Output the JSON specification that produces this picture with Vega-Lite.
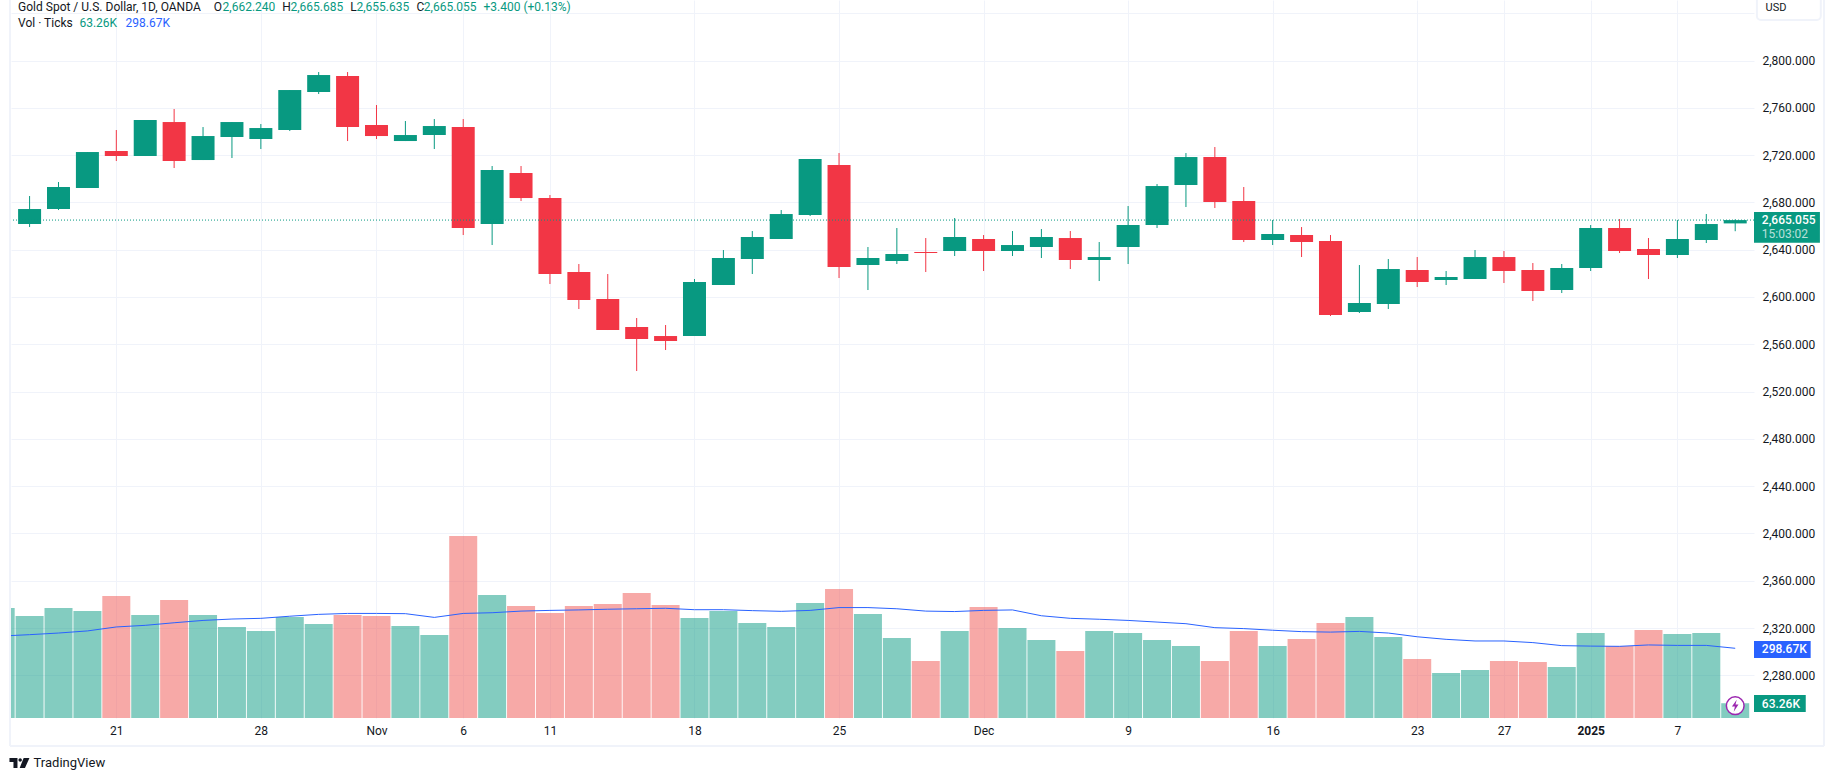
{
  "$schema": "https://vega.github.io/schema/vega-lite/v6.json",
  "width": 1743,
  "height": 718,
  "autosize": "none",
  "padding": {"left": 11, "top": 0, "right": 81, "bottom": 63},
  "background": "#ffffff",
  "config": {
    "view": {"stroke": null},
    "font": "Roboto",
    "scale": {"continuousPadding": 0},
    "axis": {"labelFont": "Roboto", "labelFontSize": 12, "labelColor": "#131722", "gridColor": "#F0F3FA", "gridWidth": 1, "ticks": false, "domain": false, "title": null}
  },
  "data": {"values": [{"note": "annotation"}]},
  "datasets": {
    "candles": [
      {"i":-1,"date":"2024-10-15","dir":"up","open":null,"high":null,"low":null,"close":null,"vol":471,"ma":351},
      {"i":0,"date":"2024-10-16","dir":"up","open":2661.71,"high":2685.40,"low":2659.17,"close":2674.40,"vol":437,"ma":357},
      {"i":1,"date":"2024-10-17","dir":"up","open":2674.40,"high":2697.24,"low":2673.55,"close":2693.01,"vol":471,"ma":364},
      {"i":2,"date":"2024-10-18","dir":"up","open":2692.16,"high":2722.61,"low":2692.16,"close":2722.61,"vol":458,"ma":373},
      {"i":3,"date":"2024-10-21","dir":"down","open":2723.46,"high":2741.22,"low":2715.00,"close":2719.23,"vol":523,"ma":390},
      {"i":4,"date":"2024-10-22","dir":"up","open":2719.23,"high":2749.68,"low":2719.23,"close":2749.68,"vol":441,"ma":397},
      {"i":5,"date":"2024-10-23","dir":"down","open":2747.98,"high":2758.98,"low":2709.08,"close":2715.00,"vol":506,"ma":408},
      {"i":6,"date":"2024-10-24","dir":"up","open":2715.84,"high":2743.75,"low":2715.84,"close":2736.14,"vol":441,"ma":418},
      {"i":7,"date":"2024-10-25","dir":"up","open":2735.30,"high":2747.98,"low":2717.54,"close":2747.98,"vol":390,"ma":424},
      {"i":8,"date":"2024-10-28","dir":"up","open":2733.61,"high":2746.29,"low":2725.15,"close":2742.91,"vol":373,"ma":427},
      {"i":9,"date":"2024-10-29","dir":"up","open":2741.22,"high":2775.05,"low":2740.37,"close":2775.05,"vol":433,"ma":436},
      {"i":10,"date":"2024-10-30","dir":"up","open":2773.36,"high":2790.27,"low":2771.67,"close":2787.74,"vol":403,"ma":444},
      {"i":11,"date":"2024-10-31","dir":"down","open":2786.89,"high":2790.27,"low":2731.91,"close":2743.75,"vol":441,"ma":448},
      {"i":12,"date":"2024-11-01","dir":"down","open":2745.45,"high":2762.36,"low":2733.61,"close":2736.14,"vol":437,"ma":448},
      {"i":13,"date":"2024-11-04","dir":"up","open":2731.91,"high":2748.83,"low":2731.91,"close":2736.99,"vol":394,"ma":447},
      {"i":14,"date":"2024-11-05","dir":"up","open":2736.99,"high":2750.52,"low":2725.15,"close":2744.60,"vol":356,"ma":431},
      {"i":15,"date":"2024-11-06","dir":"down","open":2743.75,"high":2750.52,"low":2652.41,"close":2658.33,"vol":780,"ma":448},
      {"i":16,"date":"2024-11-07","dir":"up","open":2661.71,"high":2710.77,"low":2643.95,"close":2707.39,"vol":527,"ma":451},
      {"i":17,"date":"2024-11-08","dir":"down","open":2704.85,"high":2710.77,"low":2681.17,"close":2683.70,"vol":480,"ma":458},
      {"i":18,"date":"2024-11-11","dir":"down","open":2683.70,"high":2686.24,"low":2610.97,"close":2619.42,"vol":450,"ma":461},
      {"i":19,"date":"2024-11-12","dir":"down","open":2621.12,"high":2627.88,"low":2589.82,"close":2597.43,"vol":480,"ma":463},
      {"i":20,"date":"2024-11-13","dir":"down","open":2598.28,"high":2619.42,"low":2572.06,"close":2572.06,"vol":488,"ma":466},
      {"i":21,"date":"2024-11-14","dir":"down","open":2574.60,"high":2582.21,"low":2537.38,"close":2564.45,"vol":536,"ma":468},
      {"i":22,"date":"2024-11-15","dir":"down","open":2566.98,"high":2576.29,"low":2555.14,"close":2562.76,"vol":484,"ma":470},
      {"i":23,"date":"2024-11-18","dir":"up","open":2566.98,"high":2615.19,"low":2566.98,"close":2612.66,"vol":428,"ma":464},
      {"i":24,"date":"2024-11-19","dir":"up","open":2610.12,"high":2639.72,"low":2610.12,"close":2632.96,"vol":458,"ma":464},
      {"i":25,"date":"2024-11-20","dir":"up","open":2632.11,"high":2655.79,"low":2619.42,"close":2650.72,"vol":407,"ma":460},
      {"i":26,"date":"2024-11-21","dir":"up","open":2649.03,"high":2673.55,"low":2649.03,"close":2670.17,"vol":390,"ma":457},
      {"i":27,"date":"2024-11-22","dir":"up","open":2669.33,"high":2716.69,"low":2668.48,"close":2716.69,"vol":493,"ma":461},
      {"i":28,"date":"2024-11-25","dir":"down","open":2711.61,"high":2721.76,"low":2616.04,"close":2625.34,"vol":553,"ma":473},
      {"i":29,"date":"2024-11-26","dir":"up","open":2627.04,"high":2642.26,"low":2605.89,"close":2632.96,"vol":446,"ma":473},
      {"i":30,"date":"2024-11-27","dir":"up","open":2630.42,"high":2658.33,"low":2627.88,"close":2636.34,"vol":343,"ma":468},
      {"i":31,"date":"2024-11-28","dir":"down","open":2638.03,"high":2649.87,"low":2621.12,"close":2637.19,"vol":244,"ma":458},
      {"i":32,"date":"2024-11-29","dir":"up","open":2638.88,"high":2666.79,"low":2634.65,"close":2650.72,"vol":373,"ma":456},
      {"i":33,"date":"2024-12-02","dir":"down","open":2649.03,"high":2652.41,"low":2621.96,"close":2638.88,"vol":476,"ma":461},
      {"i":34,"date":"2024-12-03","dir":"up","open":2638.88,"high":2655.79,"low":2634.65,"close":2643.95,"vol":386,"ma":463},
      {"i":35,"date":"2024-12-04","dir":"up","open":2642.26,"high":2657.48,"low":2632.96,"close":2650.72,"vol":334,"ma":438},
      {"i":36,"date":"2024-12-05","dir":"down","open":2649.87,"high":2655.79,"low":2623.65,"close":2631.26,"vol":287,"ma":427},
      {"i":37,"date":"2024-12-06","dir":"up","open":2631.26,"high":2646.49,"low":2613.50,"close":2633.80,"vol":373,"ma":423},
      {"i":38,"date":"2024-12-09","dir":"up","open":2642.26,"high":2676.94,"low":2627.88,"close":2660.87,"vol":364,"ma":418},
      {"i":39,"date":"2024-12-10","dir":"up","open":2660.87,"high":2695.54,"low":2658.33,"close":2693.85,"vol":334,"ma":411},
      {"i":40,"date":"2024-12-11","dir":"up","open":2694.70,"high":2721.76,"low":2676.09,"close":2718.38,"vol":308,"ma":404},
      {"i":41,"date":"2024-12-12","dir":"down","open":2718.38,"high":2726.84,"low":2675.25,"close":2680.32,"vol":244,"ma":387},
      {"i":42,"date":"2024-12-13","dir":"down","open":2681.17,"high":2693.01,"low":2646.49,"close":2648.18,"vol":373,"ma":383},
      {"i":43,"date":"2024-12-16","dir":"up","open":2648.18,"high":2665.10,"low":2643.95,"close":2653.26,"vol":308,"ma":376},
      {"i":44,"date":"2024-12-17","dir":"down","open":2652.41,"high":2659.17,"low":2633.80,"close":2646.49,"vol":338,"ma":370},
      {"i":45,"date":"2024-12-18","dir":"down","open":2647.33,"high":2652.41,"low":2583.90,"close":2584.75,"vol":407,"ma":368},
      {"i":46,"date":"2024-12-19","dir":"up","open":2587.28,"high":2627.04,"low":2586.44,"close":2594.90,"vol":433,"ma":371},
      {"i":47,"date":"2024-12-20","dir":"up","open":2594.05,"high":2632.11,"low":2589.82,"close":2623.65,"vol":347,"ma":364},
      {"i":48,"date":"2024-12-23","dir":"down","open":2622.81,"high":2633.80,"low":2608.43,"close":2612.66,"vol":253,"ma":348},
      {"i":49,"date":"2024-12-24","dir":"up","open":2614.35,"high":2621.96,"low":2610.12,"close":2616.89,"vol":193,"ma":337},
      {"i":50,"date":"2024-12-26","dir":"up","open":2615.19,"high":2639.72,"low":2615.19,"close":2633.80,"vol":206,"ma":330},
      {"i":51,"date":"2024-12-27","dir":"down","open":2633.80,"high":2638.88,"low":2611.81,"close":2621.96,"vol":244,"ma":330},
      {"i":52,"date":"2024-12-30","dir":"down","open":2622.81,"high":2628.73,"low":2596.59,"close":2605.05,"vol":240,"ma":323},
      {"i":53,"date":"2024-12-31","dir":"up","open":2605.89,"high":2627.88,"low":2603.35,"close":2624.50,"vol":218,"ma":310},
      {"i":54,"date":"2025-01-02","dir":"up","open":2624.50,"high":2660.87,"low":2621.96,"close":2658.33,"vol":364,"ma":308},
      {"i":55,"date":"2025-01-03","dir":"down","open":2658.33,"high":2665.94,"low":2637.19,"close":2638.88,"vol":308,"ma":307},
      {"i":56,"date":"2025-01-06","dir":"down","open":2640.57,"high":2649.87,"low":2615.19,"close":2635.49,"vol":377,"ma":313},
      {"i":57,"date":"2025-01-07","dir":"up","open":2635.49,"high":2665.10,"low":2632.96,"close":2649.03,"vol":360,"ma":311},
      {"i":58,"date":"2025-01-08","dir":"up","open":2648.18,"high":2670.17,"low":2645.64,"close":2661.71,"vol":364,"ma":311},
      {"i":59,"date":"2025-01-09","dir":"up","open":2662.24,"high":2665.685,"low":2655.635,"close":2665.055,"vol":63.26,"ma":298.67}
    ]
  },
  "resolve": {"scale": {"y": "independent", "color": "independent"}, "axis": {"y": "independent"}},
  "layer": [
    {
      "layer": [
        {
          "data": {"name": "candles"},
          "mark": {"type": "rule", "strokeWidth": 1},
          "encoding": {
            "x": {
              "field": "i",
              "type": "quantitative",
              "title": null,
              "scale": {"domain": [-0.643, 59.65], "nice": false, "zero": false},
              "axis": {
                "values": [3, 8, 12, 15, 18, 23, 28, 33, 38, 43, 48, 51, 54, 57],
                "grid": true,
                "labelPadding": 7,
                "labelFlush": false,
                "labelOverlap": false,
                "labelExpr": "{'3':'21','8':'28','12':'Nov','15':'6','18':'11','23':'18','28':'25','33':'Dec','38':'9','43':'16','48':'23','51':'27','54':'2025','57':'7'}[datum.value]",
                "labelFontWeight": {"condition": {"test": "datum.value == 54", "value": "bold"}, "value": "normal"}
              }
            },
            "y": {
              "field": "low",
              "type": "quantitative",
              "title": null,
              "scale": {"domain": [2243.9, 2851.2], "nice": false, "zero": false},
              "axis": {
                "orient": "right",
                "values": [2280, 2320, 2360, 2400, 2440, 2480, 2520, 2560, 2600, 2640, 2680, 2720, 2760, 2800, 2840],
                "grid": true,
                "labelPadding": 8,
                "labelExpr": "datum.value == 2840 ? '' : format(datum.value, ',.3f')"
              }
            },
            "y2": {"field": "high"},
            "color": {"field": "dir", "type": "nominal", "legend": null, "scale": {"domain": ["up", "down"], "range": ["#089981", "#F23645"]}}
          }
        },
        {
          "data": {"name": "candles"},
          "mark": {"type": "bar", "size": 23},
          "encoding": {
            "x": {"field": "i", "type": "quantitative", "scale": {"domain": [-0.643, 59.65], "nice": false, "zero": false}},
            "y": {"field": "open", "type": "quantitative", "stack": null, "scale": {"domain": [2243.9, 2851.2], "nice": false, "zero": false}},
            "y2": {"field": "close"},
            "color": {"field": "dir", "type": "nominal", "legend": null}
          }
        },
        {
          "mark": {"type": "rule", "color": "#089981", "strokeWidth": 1, "strokeDash": [1, 2]},
          "encoding": {"y": {"datum": 2665.055, "type": "quantitative", "scale": {"domain": [2243.9, 2851.2], "nice": false, "zero": false}}}
        },
        {
          "mark": {"type": "rule", "color": "#F0F3FA", "strokeWidth": 2},
          "encoding": {"x": {"datum": -0.678, "type": "quantitative", "scale": {"domain": [-0.643, 59.65], "nice": false, "zero": false}}, "y": {"datum": 2851.2, "type": "quantitative", "scale": {"domain": [2243.9, 2851.2], "nice": false, "zero": false}}, "y2": {"datum": 2220.2}}
        },
        {
          "mark": {"type": "rule", "color": "#F0F3FA", "strokeWidth": 2},
          "encoding": {"x": {"datum": 62.07, "type": "quantitative", "scale": {"domain": [-0.643, 59.65], "nice": false, "zero": false}}, "y": {"datum": 2851.2, "type": "quantitative", "scale": {"domain": [2243.9, 2851.2], "nice": false, "zero": false}}, "y2": {"datum": 2220.2}}
        },
        {
          "mark": {"type": "rule", "color": "#F0F3FA", "strokeWidth": 2},
          "encoding": {"x": {"datum": -0.678, "type": "quantitative", "scale": {"domain": [-0.643, 59.65], "nice": false, "zero": false}}, "x2": {"datum": 62.07}, "y": {"datum": 2220.2, "type": "quantitative", "scale": {"domain": [2243.9, 2851.2], "nice": false, "zero": false}}}
        },
        {
          "mark": {"type": "rect", "fill": "#ffffff", "stroke": "#F0F3FA", "strokeWidth": 2, "cornerRadius": 4},
          "encoding": {"x": {"datum": 59.75, "type": "quantitative", "scale": {"domain": [-0.643, 59.65], "nice": false, "zero": false}}, "x2": {"datum": 61.96}, "y": {"datum": 2855.4, "type": "quantitative", "scale": {"domain": [2243.9, 2851.2], "nice": false, "zero": false}}, "y2": {"datum": 2834.3}}
        },
        {
          "mark": {"type": "text", "align": "left", "baseline": "middle", "fontSize": 11, "color": "#131722"},
          "encoding": {"x": {"datum": 60.05, "type": "quantitative", "scale": {"domain": [-0.643, 59.65], "nice": false, "zero": false}}, "y": {"datum": 2844.2, "type": "quantitative", "scale": {"domain": [2243.9, 2851.2], "nice": false, "zero": false}}, "text": {"value": "USD"}}
        },
        {
          "mark": {"type": "rect", "fill": "#089981"},
          "encoding": {"x": {"datum": 59.65, "type": "quantitative", "scale": {"domain": [-0.643, 59.65], "nice": false, "zero": false}}, "x2": {"datum": 61.93}, "y": {"datum": 2671.9, "type": "quantitative", "scale": {"domain": [2243.9, 2851.2], "nice": false, "zero": false}}, "y2": {"datum": 2645.9}}
        },
        {
          "mark": {"type": "text", "align": "left", "baseline": "middle", "fontSize": 12, "fontWeight": 500, "color": "#ffffff"},
          "encoding": {"x": {"datum": 59.92, "type": "quantitative", "scale": {"domain": [-0.643, 59.65], "nice": false, "zero": false}}, "y": {"datum": 2665.4, "type": "quantitative", "scale": {"domain": [2243.9, 2851.2], "nice": false, "zero": false}}, "text": {"value": "2,665.055"}}
        },
        {
          "mark": {"type": "text", "align": "left", "baseline": "middle", "fontSize": 12, "color": "#ffffff", "opacity": 0.7},
          "encoding": {"x": {"datum": 59.92, "type": "quantitative", "scale": {"domain": [-0.643, 59.65], "nice": false, "zero": false}}, "y": {"datum": 2653.5, "type": "quantitative", "scale": {"domain": [2243.9, 2851.2], "nice": false, "zero": false}}, "text": {"value": "15:03:02"}}
        },
        {
          "mark": {"type": "rect", "fill": "#2962FF"},
          "encoding": {"x": {"datum": 59.65, "type": "quantitative", "scale": {"domain": [-0.643, 59.65], "nice": false, "zero": false}}, "x2": {"datum": 61.61}, "y": {"datum": 2309.0, "type": "quantitative", "scale": {"domain": [2243.9, 2851.2], "nice": false, "zero": false}}, "y2": {"datum": 2294.7}}
        },
        {
          "mark": {"type": "text", "align": "left", "baseline": "middle", "fontSize": 12, "fontWeight": 500, "color": "#ffffff"},
          "encoding": {"x": {"datum": 59.92, "type": "quantitative", "scale": {"domain": [-0.643, 59.65], "nice": false, "zero": false}}, "y": {"datum": 2302.0, "type": "quantitative", "scale": {"domain": [2243.9, 2851.2], "nice": false, "zero": false}}, "text": {"value": "298.67K"}}
        },
        {
          "mark": {"type": "rect", "fill": "#089981"},
          "encoding": {"x": {"datum": 59.65, "type": "quantitative", "scale": {"domain": [-0.643, 59.65], "nice": false, "zero": false}}, "x2": {"datum": 61.44}, "y": {"datum": 2263.4, "type": "quantitative", "scale": {"domain": [2243.9, 2851.2], "nice": false, "zero": false}}, "y2": {"datum": 2249.0}}
        },
        {
          "mark": {"type": "text", "align": "left", "baseline": "middle", "fontSize": 12, "fontWeight": 500, "color": "#ffffff"},
          "encoding": {"x": {"datum": 59.92, "type": "quantitative", "scale": {"domain": [-0.643, 59.65], "nice": false, "zero": false}}, "y": {"datum": 2256.0, "type": "quantitative", "scale": {"domain": [2243.9, 2851.2], "nice": false, "zero": false}}, "text": {"value": "63.26K"}}
        },
        {
          "mark": {"type": "text", "align": "left", "baseline": "middle", "fontSize": 12, "color": "#131722"},
          "encoding": {"x": {"datum": -0.398, "type": "quantitative", "scale": {"domain": [-0.643, 59.65], "nice": false, "zero": false}}, "y": {"datum": 2845.4, "type": "quantitative", "scale": {"domain": [2243.9, 2851.2], "nice": false, "zero": false}}, "text": {"value": "Gold Spot / U.S. Dollar, 1D, OANDA"}}
        },
        {
          "mark": {"type": "text", "align": "left", "baseline": "middle", "fontSize": 12, "color": "#131722"},
          "encoding": {"x": {"datum": 6.372, "type": "quantitative", "scale": {"domain": [-0.643, 59.65], "nice": false, "zero": false}}, "y": {"datum": 2845.4, "type": "quantitative", "scale": {"domain": [2243.9, 2851.2], "nice": false, "zero": false}}, "text": {"value": "O"}}
        },
        {
          "mark": {"type": "text", "align": "left", "baseline": "middle", "fontSize": 12, "color": "#089981"},
          "encoding": {"x": {"datum": 6.676, "type": "quantitative", "scale": {"domain": [-0.643, 59.65], "nice": false, "zero": false}}, "y": {"datum": 2845.4, "type": "quantitative", "scale": {"domain": [2243.9, 2851.2], "nice": false, "zero": false}}, "text": {"value": "2,662.240"}}
        },
        {
          "mark": {"type": "text", "align": "left", "baseline": "middle", "fontSize": 12, "color": "#131722"},
          "encoding": {"x": {"datum": 8.737, "type": "quantitative", "scale": {"domain": [-0.643, 59.65], "nice": false, "zero": false}}, "y": {"datum": 2845.4, "type": "quantitative", "scale": {"domain": [2243.9, 2851.2], "nice": false, "zero": false}}, "text": {"value": "H"}}
        },
        {
          "mark": {"type": "text", "align": "left", "baseline": "middle", "fontSize": 12, "color": "#089981"},
          "encoding": {"x": {"datum": 9.024, "type": "quantitative", "scale": {"domain": [-0.643, 59.65], "nice": false, "zero": false}}, "y": {"datum": 2845.4, "type": "quantitative", "scale": {"domain": [2243.9, 2851.2], "nice": false, "zero": false}}, "text": {"value": "2,665.685"}}
        },
        {
          "mark": {"type": "text", "align": "left", "baseline": "middle", "fontSize": 12, "color": "#131722"},
          "encoding": {"x": {"datum": 11.09, "type": "quantitative", "scale": {"domain": [-0.643, 59.65], "nice": false, "zero": false}}, "y": {"datum": 2845.4, "type": "quantitative", "scale": {"domain": [2243.9, 2851.2], "nice": false, "zero": false}}, "text": {"value": "L"}}
        },
        {
          "mark": {"type": "text", "align": "left", "baseline": "middle", "fontSize": 12, "color": "#089981"},
          "encoding": {"x": {"datum": 11.307, "type": "quantitative", "scale": {"domain": [-0.643, 59.65], "nice": false, "zero": false}}, "y": {"datum": 2845.4, "type": "quantitative", "scale": {"domain": [2243.9, 2851.2], "nice": false, "zero": false}}, "text": {"value": "2,655.635"}}
        },
        {
          "mark": {"type": "text", "align": "left", "baseline": "middle", "fontSize": 12, "color": "#131722"},
          "encoding": {"x": {"datum": 13.386, "type": "quantitative", "scale": {"domain": [-0.643, 59.65], "nice": false, "zero": false}}, "y": {"datum": 2845.4, "type": "quantitative", "scale": {"domain": [2243.9, 2851.2], "nice": false, "zero": false}}, "text": {"value": "C"}}
        },
        {
          "mark": {"type": "text", "align": "left", "baseline": "middle", "fontSize": 12, "color": "#089981"},
          "encoding": {"x": {"datum": 13.636, "type": "quantitative", "scale": {"domain": [-0.643, 59.65], "nice": false, "zero": false}}, "y": {"datum": 2845.4, "type": "quantitative", "scale": {"domain": [2243.9, 2851.2], "nice": false, "zero": false}}, "text": {"value": "2,665.055"}}
        },
        {
          "mark": {"type": "text", "align": "left", "baseline": "middle", "fontSize": 12, "color": "#089981"},
          "encoding": {"x": {"datum": 15.7, "type": "quantitative", "scale": {"domain": [-0.643, 59.65], "nice": false, "zero": false}}, "y": {"datum": 2845.4, "type": "quantitative", "scale": {"domain": [2243.9, 2851.2], "nice": false, "zero": false}}, "text": {"value": "+3.400 (+0.13%)"}}
        },
        {
          "mark": {"type": "text", "align": "left", "baseline": "middle", "fontSize": 12, "color": "#131722"},
          "encoding": {"x": {"datum": -0.398, "type": "quantitative", "scale": {"domain": [-0.643, 59.65], "nice": false, "zero": false}}, "y": {"datum": 2832.0, "type": "quantitative", "scale": {"domain": [2243.9, 2851.2], "nice": false, "zero": false}}, "text": {"value": "Vol · Ticks"}}
        },
        {
          "mark": {"type": "text", "align": "left", "baseline": "middle", "fontSize": 12, "color": "#089981"},
          "encoding": {"x": {"datum": 1.723, "type": "quantitative", "scale": {"domain": [-0.643, 59.65], "nice": false, "zero": false}}, "y": {"datum": 2832.0, "type": "quantitative", "scale": {"domain": [2243.9, 2851.2], "nice": false, "zero": false}}, "text": {"value": "63.26K"}}
        },
        {
          "mark": {"type": "text", "align": "left", "baseline": "middle", "fontSize": 12, "color": "#2962FF"},
          "encoding": {"x": {"datum": 3.321, "type": "quantitative", "scale": {"domain": [-0.643, 59.65], "nice": false, "zero": false}}, "y": {"datum": 2832.0, "type": "quantitative", "scale": {"domain": [2243.9, 2851.2], "nice": false, "zero": false}}, "text": {"value": "298.67K"}}
        },
        {
          "mark": {"type": "point", "filled": true, "color": "#131722", "opacity": 1, "size": 400, "shape": "M-1 -0.5 H-0.2 V0.5 H-0.6 V-0.1 H-1 Z M-0.1 -0.3 A0.17 0.17 0 1 1 0.24 -0.3 A0.17 0.17 0 1 1 -0.1 -0.3 Z M0.42 -0.5 H1 L0.55 0.5 H0.02 Z"},
          "encoding": {"x": {"datum": -0.35, "type": "quantitative", "scale": {"domain": [-0.643, 59.65], "nice": false, "zero": false}}, "y": {"datum": 2205.9, "type": "quantitative", "scale": {"domain": [2243.9, 2851.2], "nice": false, "zero": false}}}
        },
        {
          "mark": {"type": "text", "align": "left", "baseline": "middle", "fontSize": 13, "color": "#131722"},
          "encoding": {"x": {"datum": 0.138, "type": "quantitative", "scale": {"domain": [-0.643, 59.65], "nice": false, "zero": false}}, "y": {"datum": 2205.9, "type": "quantitative", "scale": {"domain": [2243.9, 2851.2], "nice": false, "zero": false}}, "text": {"value": "TradingView"}}
        }
      ]
    },
    {
      "layer": [
        {
          "data": {"name": "candles"},
          "mark": {"type": "bar", "size": 28, "opacity": 0.5, "clip": true},
          "encoding": {
            "x": {"field": "i", "type": "quantitative", "scale": {"domain": [-0.643, 59.65], "nice": false, "zero": false}},
            "y": {"field": "vol", "type": "quantitative", "stack": null, "axis": null, "scale": {"domain": [0, 3076], "nice": false}},
            "y2": {"datum": 0},
            "color": {"field": "dir", "type": "nominal", "legend": null, "scale": {"domain": ["up", "down"], "range": ["#089981", "#EF5350"]}}
          }
        },
        {
          "data": {"name": "candles"},
          "mark": {"type": "line", "color": "#2962FF", "strokeWidth": 1, "clip": true},
          "encoding": {
            "x": {"field": "i", "type": "quantitative", "scale": {"domain": [-0.643, 59.65], "nice": false, "zero": false}},
            "y": {"field": "ma", "type": "quantitative", "axis": null, "scale": {"domain": [0, 3076], "nice": false}}
          }
        },
        {
          "mark": {"type": "point", "filled": true, "fill": "#ffffff", "stroke": "#9C27B0", "strokeWidth": 1.5, "opacity": 1, "shape": "circle", "size": 314},
          "encoding": {"x": {"datum": 59, "type": "quantitative", "scale": {"domain": [-0.643, 59.65], "nice": false, "zero": false}}, "y": {"datum": 52.7, "type": "quantitative", "axis": null, "scale": {"domain": [0, 3076], "nice": false}}}
        },
        {
          "mark": {"type": "point", "filled": true, "color": "#9C27B0", "opacity": 1, "size": 144, "shape": "M0.25 -1 L-0.55 0.15 H-0.05 L-0.25 1 L0.55 -0.2 H0.05 Z"},
          "encoding": {"x": {"datum": 59, "type": "quantitative", "scale": {"domain": [-0.643, 59.65], "nice": false, "zero": false}}, "y": {"datum": 52.7, "type": "quantitative", "axis": null, "scale": {"domain": [0, 3076], "nice": false}}}
        }
      ]
    }
  ]
}
